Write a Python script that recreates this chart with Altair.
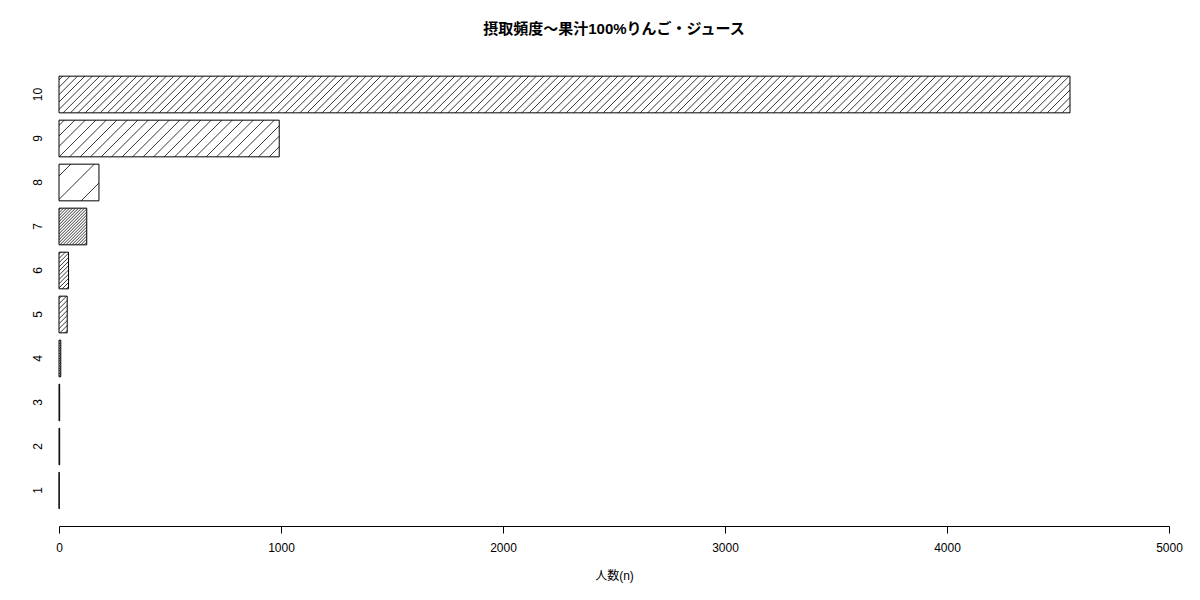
import math
import altair as alt
import pandas as pd

# ---- data ----
labels = ["1", "2", "3", "4", "5", "6", "7", "8", "9", "10"]
counts = [1, 3, 3, 8, 37, 43, 125, 180, 992, 4554]
x_ticks = [0, 1000, 2000, 3000, 4000, 5000]
chart_title = "摂取頻度〜果汁100%りんご・ジュース"
x_title = "人数(n)"

# ---- style: hatch line spacing per bar (pixels, horizontal) ----
hatch_spacing = [2.0, 2.0, 2.0, 2.5, 5.0, 4.2, 3.0, 23.5, 10.5, 7.4]

PLOT_W, PLOT_H = 1110, 467
X_MAX = 5000
PX_PER_UNIT = PLOT_W / X_MAX
PAD_INNER = 1 / 6
PAD_OUTER = 0.39
step = PLOT_H / (len(labels) - PAD_INNER + 2 * PAD_OUTER)
bar_h = step * (1 - PAD_INNER)

FONT = "Liberation Sans, Noto Sans CJK JP"
MAX_PIECE_PX = 120  # keep each gradient short so it renders crisply
OVERLAP_PX = 1.0


def hatch(p0, width_px, spacing, lw=0.95, color="#2a2a2a"):
    """Linear gradient drawing soft-edged 45-degree hatch lines for a
    rectangle that starts p0 pixels into the bar and is width_px wide."""
    W = max(width_px, 0.05)
    H = bar_h
    L = W + H
    k = L / (W * W + H * H)
    stops = [{"offset": 0, "color": "white"}]
    phase = spacing / 2
    n = math.floor((p0 - phase) / spacing) - 1
    last = 0.0
    while True:
        c = phase + n * spacing - p0
        if c - lw >= L:
            break
        if c + lw > 0:
            a = min(max((c - lw) / L, last), 1.0)
            m = min(max(c / L, a), 1.0)
            b = min(max((c + lw) / L, m), 1.0)
            stops += [
                {"offset": a, "color": "white"},
                {"offset": m, "color": color},
                {"offset": b, "color": "white"},
            ]
            last = b
        n += 1
    stops.append({"offset": 1, "color": "white"})
    return {"gradient": "linear", "x1": 0, "y1": 0, "x2": k * W, "y2": k * H, "stops": stops}


df = pd.DataFrame({"label": labels, "count": counts})

x_scale = alt.Scale(domain=[0, X_MAX], nice=False, zero=True)
x_axis = alt.Axis(
    values=x_ticks,
    format="d",
    grid=False,
    labelFlush=False,
    domainColor="black",
    tickColor="black",
    tickSize=7,
    labelColor="black",
    labelFont=FONT,
    labelFontSize=12,
    labelPadding=9,
    title=x_title,
    titleFont=FONT,
    titleFontSize=12,
    titleFontWeight="normal",
    titleColor="black",
    titlePadding=17,
)
yenc = alt.Y(
    "label:N",
    sort=labels[::-1],
    scale=alt.Scale(paddingInner=PAD_INNER, paddingOuter=PAD_OUTER),
    axis=alt.Axis(
        title=None,
        domain=False,
        ticks=False,
        grid=False,
        labelAngle=270,
        labelAlign="center",
        labelBaseline="middle",
        labelPadding=22,
        labelColor="black",
        labelFont=FONT,
        labelFontSize=12,
    ),
)

layers = []
# hatched fills, each bar split into short pieces
for lab, val, sp in zip(labels, counts, hatch_spacing):
    w_px = val * PX_PER_UNIT
    n_pieces = max(1, math.ceil(w_px / MAX_PIECE_PX))
    piece_px = w_px / n_pieces
    for j in range(n_pieces):
        p0 = j * piece_px
        p1 = min(w_px, (j + 1) * piece_px + (OVERLAP_PX if j < n_pieces - 1 else 0))
        piece = pd.DataFrame(
            {"label": [lab], "start": [p0 / PX_PER_UNIT], "end": [p1 / PX_PER_UNIT]}
        )
        layers.append(
            alt.Chart(piece)
            .mark_bar(fill=hatch(p0, p1 - p0, sp), strokeWidth=0)
            .encode(
                x=alt.X("start:Q", scale=x_scale, axis=x_axis),
                x2="end:Q",
                y=yenc,
            )
        )

# outlines
layers.append(
    alt.Chart(df)
    .mark_bar(fill="transparent", stroke="black", strokeWidth=1)
    .encode(x=alt.X("count:Q", scale=x_scale, axis=x_axis), y=yenc)
)

chart = (
    alt.layer(*layers)
    .properties(
        width=PLOT_W,
        height=PLOT_H,
        view=alt.ViewBackground(stroke="transparent", strokeWidth=0),
        title=alt.TitleParams(
            text=chart_title,
            font=FONT,
            fontSize=15,
            fontWeight="bold",
            color="black",
            anchor="middle",
            offset=22,
        ),
        autosize="none",
        padding={"left": 51, "top": 51, "right": 23, "bottom": 66},
    )
    .configure_view(stroke="transparent", strokeWidth=0)
    .configure(background="white")
)

chart.save("out.html", embed_options={"renderer": "svg", "actions": False})
